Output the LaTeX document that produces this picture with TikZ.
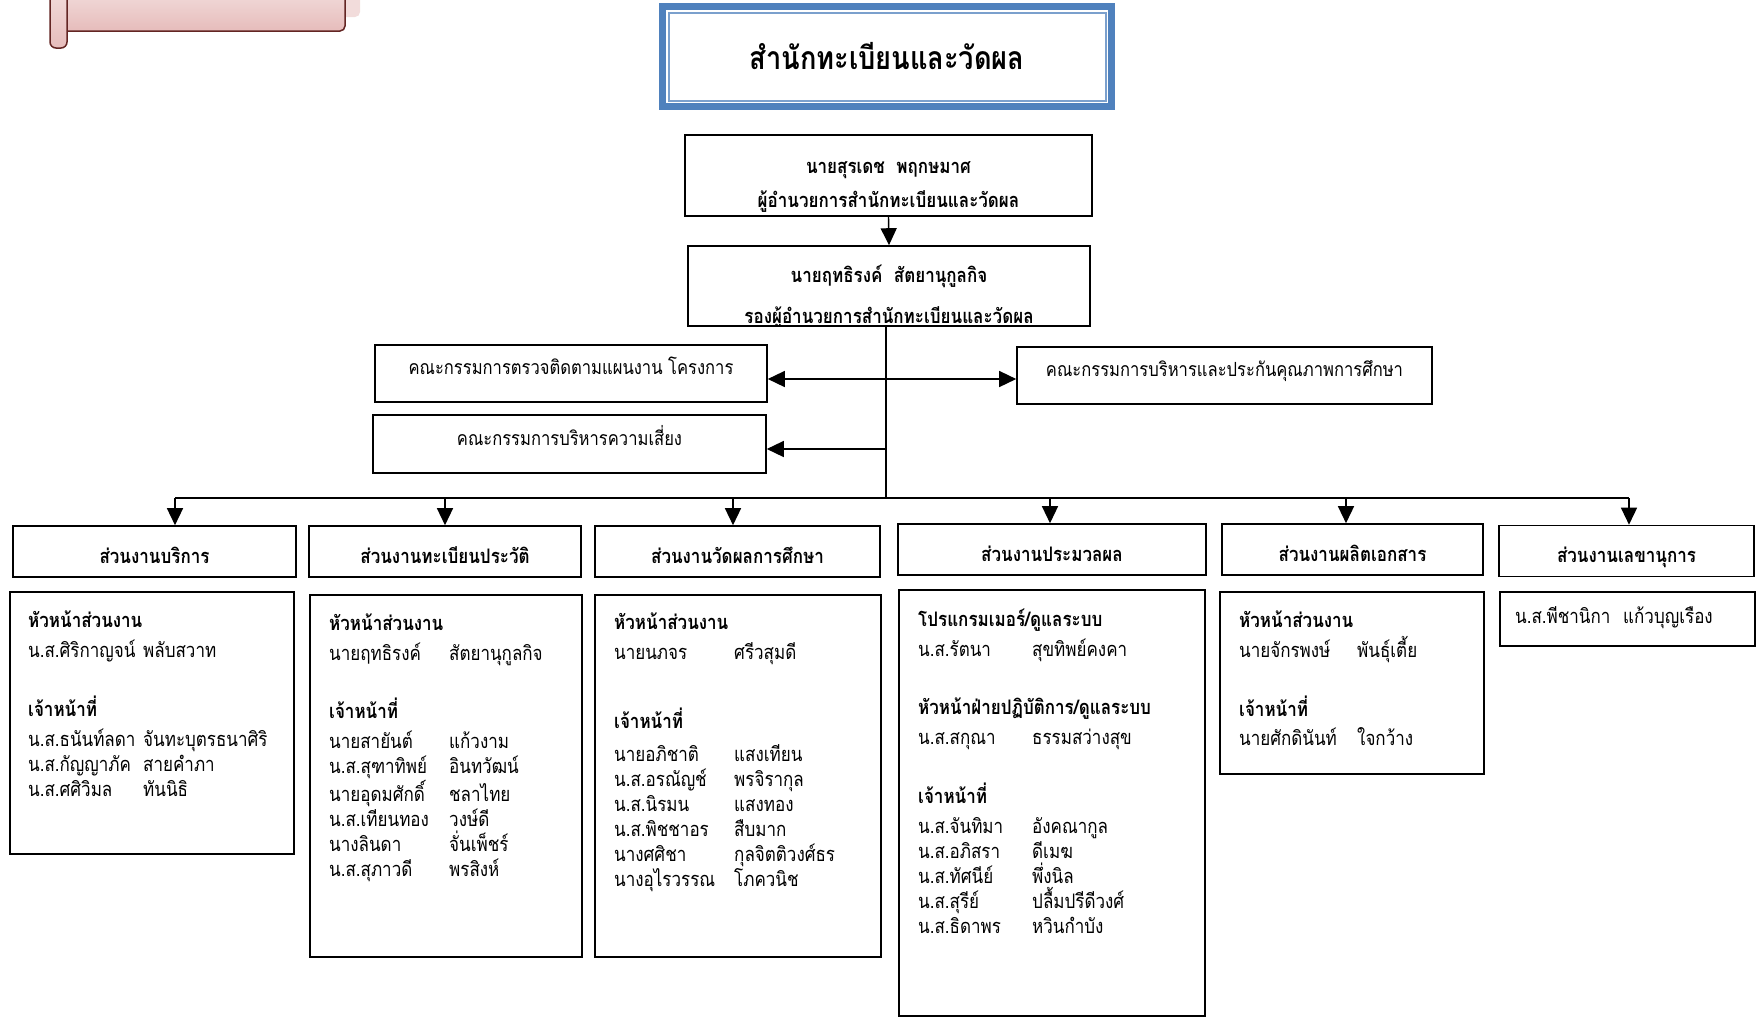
\documentclass[tikz,border=0pt]{standalone}
\usepackage{fontspec}
\setmainfont[Script=Thai,FakeStretch=0.85]{Loma}
\usetikzlibrary{arrows.meta}

\definecolor{ttlblue}{HTML}{4F81BD}
\definecolor{scrollfill}{HTML}{E6BCBB}
\definecolor{scrolltop}{HTML}{F2DCDB}
\definecolor{scrollline}{HTML}{632523}

\newcommand{\pname}[3][115pt]{\makebox[#1][l]{#2}#3}

\tikzset{
  box/.style={draw, line width=1.6pt, inner sep=0pt},
  hdr/.style={box, minimum height=51pt, text height=28pt, text depth=5pt, font=\bfseries\fontsize{20}{24}\selectfont},
  cmte/.style={box, minimum height=57pt, text height=15pt, text depth=13pt, font=\fontsize{19.5}{24}\selectfont},
  info/.style={align=left, inner sep=0pt, anchor=north west, font=\fontsize{20}{25}\selectfont},
  arr/.style={line width=1.4pt, -{Triangle[length=17pt,width=16pt]}},
  arrtwo/.style={line width=1.4pt, {Triangle[length=17pt,width=16pt]}-{Triangle[length=17pt,width=16pt]}}
}

\begin{document}
\begin{tikzpicture}[x=1pt,y=-1pt] % pixel units
\useasboundingbox (0,0) rectangle (1756,1018);

% scroll
\fill[scrolltop, rounded corners=5pt] (300,-10) rectangle (360,17);
\shade[top color=scrolltop, bottom color=scrollfill, draw=scrollline, line width=1.5pt, rounded corners=5pt] (60,-10) rectangle (345,31);
\shade[top color=scrolltop, bottom color=scrollfill, draw=scrollline, line width=1.5pt, rounded corners=6pt] (50,-10) rectangle (67,48);

% title
\fill[ttlblue] (659,3) rectangle (1115,110);
\fill[white] (666,10) rectangle (1108,103);
\node[draw=ttlblue!75, line width=2pt, minimum width=437pt, minimum height=88pt, inner sep=0pt, font=\bfseries\fontsize{32}{36}\selectfont] (title) at (887,56.5) {สำนักทะเบียนและวัดผล};

% director
\node[box, minimum width=407pt, minimum height=81pt] (dir) at (888.5,175.5) {};
\node[font=\bfseries\fontsize{20}{34}\selectfont, align=center] (dirtxt) at (888.5,186.5) {นายสุรเดช\ \ พฤกษมาศ\\ผู้อำนวยการสำนักทะเบียนและวัดผล};

\node[box, minimum width=402pt, minimum height=80pt] (dep) at (889,286) {};
\node[font=\bfseries\fontsize{20}{24}\selectfont] (deptxt) at (889,276) {นายฤทธิรงค์\ \ สัตยานุกูลกิจ};
\begin{scope}
\clip (dep.north west) rectangle ([yshift=1.6pt]dep.south east);
\node[font=\bfseries\fontsize{20}{24}\selectfont] (deprole) at (889,317) {รองผู้อำนวยการสำนักทะเบียนและวัดผล};
\end{scope}
\draw[arr] (dir.south) -- (dep.north);

% committees
\node[cmte, minimum width=392pt] (cmA) at (571,373.5) {คณะกรรมการตรวจติดตามแผนงาน โครงการ};
\node[cmte, minimum width=393pt, minimum height=58pt] (cmB) at (569.5,444) {คณะกรรมการบริหารความเสี่ยง};
\node[cmte, minimum width=415pt] (cmC) at (1224.5,375.5) {คณะกรรมการบริหารและประกันคุณภาพการศึกษา};

\coordinate (bus) at (886,498);
\coordinate (jA) at (886,379);
\coordinate (jB) at (886,449);
\draw[line width=1.4pt] (dep.south -| bus) -- (bus);
\draw[arrtwo] (jA -| cmA.east) -- (jA -| cmC.west);
\draw[arr] (jB) -- (jB -| cmB.east);

% divisions
\node[hdr, minimum width=283pt] (h1) at (154.5,551.5) {ส่วนงานบริการ};
\node[hdr, minimum width=272pt] (h2) at (445,551.5) {ส่วนงานทะเบียนประวัติ};
\node[hdr, minimum width=285pt] (h3) at (737.5,551.5) {ส่วนงานวัดผลการศึกษา};
\node[hdr, minimum width=308pt] (h4) at (1052,549.5) {ส่วนงานประมวลผล};
\node[hdr, minimum width=261pt] (h5) at (1352.5,549.5) {ส่วนงานผลิตเอกสาร};
\node[hdr, minimum width=255pt] (h6) at (1626.5,551) {ส่วนงานเลขานุการ};

\coordinate (d1) at (175,498);
\coordinate (d2) at (445,498);
\coordinate (d3) at (733,498);
\coordinate (d4) at (1050,498);
\coordinate (d5) at (1346,498);
\coordinate (d6) at (1629,498);
\draw[line width=1.4pt] (d1) -- (d6);
\draw[arr] (d1) -- (d1 |- h1.north);
\draw[arr] (d2) -- (d2 |- h2.north);
\draw[arr] (d3) -- (d3 |- h3.north);
\draw[arr] (d4) -- (d4 |- h4.north);
\draw[arr] (d5) -- (d5 |- h5.north);
\draw[arr] (d6) -- (d6 |- h6.north);

% staff boxes
\node[box, anchor=north west, minimum width=284pt, minimum height=262pt] (p1) at (9,591) {};
\node[box, anchor=north west, minimum width=272pt, minimum height=362pt] (p2) at (309,594) {};
\node[box, anchor=north west, minimum width=286pt, minimum height=362pt] (p3) at (594,594) {};
\node[box, anchor=north west, minimum width=306pt, minimum height=426pt] (p4) at (898,589) {};
\node[box, anchor=north west, minimum width=264pt, minimum height=182pt] (p5) at (1219,591) {};
\node[box, anchor=north west, minimum width=255pt, minimum height=54pt] (p6) at (1499,591) {};

\node[info] (t1) at (28,611) {\textbf{หัวหน้าส่วนงาน}\\[5pt]
  \pname{น.ส.ศิริกาญจน์}{พลับสวาท}\\[32pt]
  \textbf{เจ้าหน้าที่}\\[5pt]
  \pname{น.ส.ธนันท์ลดา}{จันทะบุตรธนาศิริ}\\
  \pname{น.ส.กัญญาภัค}{สายคำภา}\\
  \pname{น.ส.ศศิวิมล}{ทันนิธิ}};

\node[info] (t2) at (329,614) {\textbf{หัวหน้าส่วนงาน}\\[5pt]
  \pname[120pt]{นายฤทธิรงค์}{สัตยานุกูลกิจ}\\[31pt]
  \textbf{เจ้าหน้าที่}\\[5pt]
  \pname[120pt]{นายสายันต์}{แก้วงาม}\\
  \pname[120pt]{น.ส.สุฑาทิพย์}{อินทวัฒน์}\\
  \pname[120pt]{นายอุดมศักดิ์}{ชลาไทย}\\
  \pname[120pt]{น.ส.เทียนทอง}{วงษ์ดี}\\
  \pname[120pt]{นางลินดา}{จั่นเพ็ชร์}\\
  \pname[120pt]{น.ส.สุภาวดี}{พรสิงห์}};

\node[info] (t3) at (614,613) {\textbf{หัวหน้าส่วนงาน}\\[5pt]
  \pname[120pt]{นายนภจร}{ศรีวสุมดี}\\[42pt]
  \textbf{เจ้าหน้าที่}\\[8pt]
  \pname[120pt]{นายอภิชาติ}{แสงเทียน}\\
  \pname[120pt]{น.ส.อรณัญช์}{พรจิรากุล}\\
  \pname[120pt]{น.ส.นิรมน}{แสงทอง}\\
  \pname[120pt]{น.ส.พิชชาอร}{สืบมาก}\\
  \pname[120pt]{นางศศิชา}{กุลจิตติวงศ์ธร}\\
  \pname[120pt]{นางอุไรวรรณ}{โภควนิช}};

\node[info] (t4) at (918,609) {\textbf{โปรแกรมเมอร์/ดูแลระบบ}\\[5pt]
  \pname[114pt]{น.ส.รัตนา}{สุขทิพย์คงคา}\\[33pt]
  \textbf{หัวหน้าฝ่ายปฏิบัติการ/ดูแลระบบ}\\[5pt]
  \pname[114pt]{น.ส.สกุณา}{ธรรมสว่างสุข}\\[32pt]
  \textbf{เจ้าหน้าที่}\\[5pt]
  \pname[114pt]{น.ส.จันทิมา}{อังคณากูล}\\
  \pname[114pt]{น.ส.อภิสรา}{ดีเมฆ}\\
  \pname[114pt]{น.ส.ทัศนีย์}{พึ่งนิล}\\
  \pname[114pt]{น.ส.สุรีย์}{ปลื้มปรีดีวงศ์}\\
  \pname[114pt]{น.ส.ธิดาพร}{หวินกำบัง}};

\node[info] (t5) at (1239,611) {\textbf{หัวหน้าส่วนงาน}\\[5pt]
  \pname[118pt]{นายจักรพงษ์}{พันธุ์เตี้ย}\\[32pt]
  \textbf{เจ้าหน้าที่}\\[4pt]
  \pname[118pt]{นายศักดินันท์}{ใจกว้าง}};

\node[info] (t6) at (1515,606) {\pname[108pt]{น.ส.พีชานิกา}{แก้วบุญเรือง}};
\end{tikzpicture}
\end{document}
